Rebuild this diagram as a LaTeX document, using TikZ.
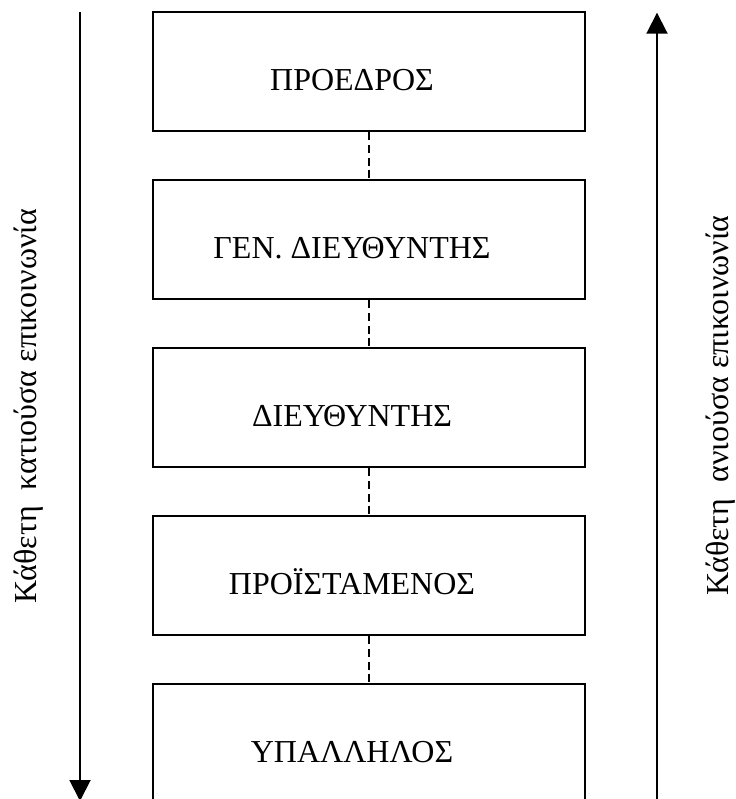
\documentclass[tikz,border=0pt]{standalone}
\usepackage{fontspec}
\setmainfont{Liberation Serif}
\usetikzlibrary{arrows.meta,positioning}

\begin{document}
\begin{tikzpicture}[x=0.02cm, y=-0.02cm,
    post/.style={draw, line width=1.1pt, minimum width=8.64cm, minimum height=2.38cm, inner sep=0pt},
    rank/.style={font=\fontsize{18.2}{22}\selectfont, anchor=base, inner sep=0pt},
    link/.style={line width=0.85pt, dash pattern=on 4.5pt off 2.8pt},
    flow/.style={line width=1.1pt, -{Triangle[width=0.42cm, length=0.42cm]}},
    side/.style={font=\fontsize{18.2}{22}\selectfont, rotate=90, anchor=base, inner sep=0pt}]
      \clip (0,0) rectangle (736,799);

      % Hierarchy boxes
      \foreach \txt [count=\i] in {ΠΡΟΕΔΡΟΣ, ΓΕΝ. ΔΙΕΥΘΥΝΤΗΣ, ΔΙΕΥΘΥΝΤΗΣ, ΠΡΟΪΣΤΑΜΕΝΟΣ, ΥΠΑΛΛΗΛΟΣ} {
        \node[post] (b\i) at (369, {71.5+168*(\i-1)}) {};
        \node[rank] (t\i) at (352, {90+168*(\i-1)}) {\txt};
      }

      % Dashed links
      \foreach \i/\j in {1/2,2/3,3/4,4/5}
        \draw[link] (b\i.south) -- (b\j.north);

      % Vertical communication arrows
      \coordinate (dtop) at (80,12);
      \coordinate (dbot) at (80,801);
      \coordinate (ubot) at (657,801);
      \coordinate (utop) at (657,12.7);
      \draw[flow] (dtop) -- (dbot);
      \draw[flow] (ubot) -- (utop);

      % Labels
      \node[side] (down) at (36,406) {Κάθετη\ \ κατιούσα επικοινωνία};
      \node[side] (up) at (728.5,405.5) {Κάθετη\ \ ανιούσα επικοινωνία};
    \end{tikzpicture}
\end{document}
